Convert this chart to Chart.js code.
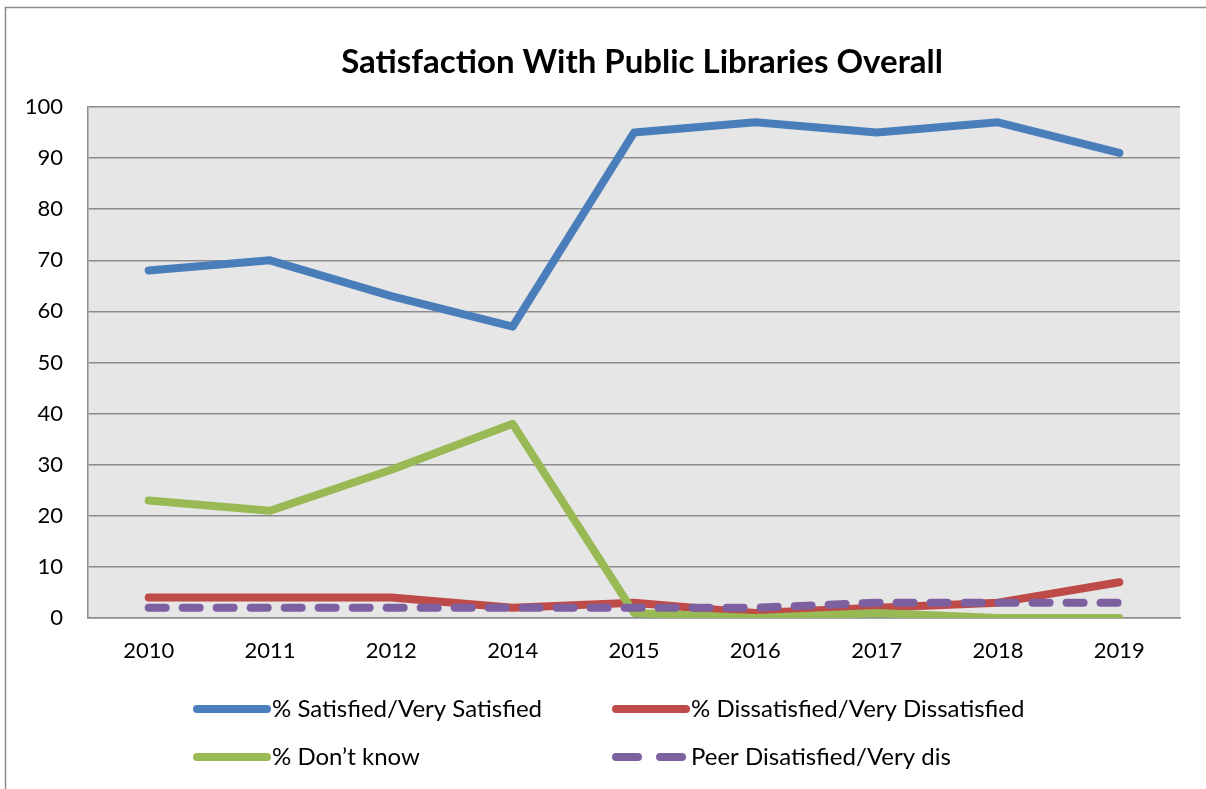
<!DOCTYPE html>
<html>
<head>
<meta charset="utf-8">
<script src="https://cdn.jsdelivr.net/npm/chart.js@4.4.0/dist/chart.umd.min.js"></script>
<style>
  html, body { margin: 0; padding: 0; background: #ffffff; }
  #wrap { width: 1206px; height: 789px; }
</style>
</head>
<body>
<div id="wrap"><canvas id="librariesChart" width="1206" height="789"></canvas></div>
<script>
// dados
const years = ['2010', '2011', '2012', '2014', '2015', '2016', '2017', '2018', '2019'];
const satisfied = [68, 70, 63, 57, 95, 97, 95, 97, 91];
const dissatisfied = [4, 4, 4, 2, 3, 1, 2, 3, 7];
const dontKnow = [23, 21, 29, 38, 1, 0, 1, 0, 0];
const peerDissatisfied = [2, 2, 2, 2, 2, 2, 3, 3, 3];

const seriesNames = [
    '% Satisfied/Very Satisfied',
    '% Dissatisfied/Very Dissatisfied',
    '% Don\u2019t know',
    'Peer Disatisfied/Very dis'
];
const seriesColors = ['#4a7ebb', '#be4b48', '#98b954', '#7d60a0'];
const chartTitle = 'Satisfaction With Public Libraries Overall';

const FONT = 'Lato, "Open Sans", sans-serif';

// fundo cinza da área do gráfico + moldura externa
const backgroundPlugin = {
    id: 'plotBackground',
    beforeDraw(chart) {
        const { ctx, chartArea } = chart;
        ctx.save();
        ctx.fillStyle = '#ffffff';
        ctx.fillRect(0, 0, chart.width, chart.height);
        ctx.strokeStyle = '#8c8c8c';
        ctx.lineWidth = 1.5;
        ctx.strokeRect(5.5, 7.5, 1400, 1000);
        ctx.fillStyle = '#e6e6e6';
        ctx.fillRect(chartArea.left, chartArea.top,
            chartArea.right - chartArea.left, chartArea.bottom - chartArea.top);
        ctx.restore();
    }
};

// título e legenda em duas colunas (como no Excel)
const titleLegendPlugin = {
    id: 'titleLegend',
    afterDraw(chart) {
        const ctx = chart.ctx;
        ctx.save();
        ctx.fillStyle = '#000000';
        ctx.font = 'bold 33px ' + FONT;
        ctx.textAlign = 'center';
        ctx.textBaseline = 'middle';
        ctx.fillText(chartTitle, 642, 62);

        const cols = [193, 612];
        const rows = [709, 757];
        ctx.font = '24px ' + FONT;
        ctx.textAlign = 'left';
        chart.data.datasets.forEach((ds, i) => {
            const x = cols[i % 2];
            const y = rows[Math.floor(i / 2)];
            ctx.strokeStyle = ds.borderColor;
            ctx.lineWidth = 8;
            ctx.lineCap = 'round';
            ctx.setLineDash(ds.borderDash.length ? [22, 22] : []);
            ctx.beginPath();
            ctx.moveTo(x + 4, y);
            ctx.lineTo(x + 74, y);
            ctx.stroke();
            ctx.setLineDash([]);
            ctx.fillStyle = '#000000';
            ctx.fillText(ds.label, x + 79, y);
        });
        ctx.restore();
    }
};

function makeDataset(index, values, dashed) {
    return {
        label: seriesNames[index],
        data: values,
        borderColor: seriesColors[index],
        backgroundColor: seriesColors[index],
        borderWidth: 8,
        borderCapStyle: 'round',
        borderJoinStyle: 'round',
        borderDash: dashed ? [17, 17] : [],
        pointRadius: 0,
        tension: 0,
        fill: false,
        order: 3 - index
    };
}

new Chart(document.getElementById('librariesChart'), {
    type: 'line',
    data: {
        labels: years,
        datasets: [
            makeDataset(0, satisfied, false),
            makeDataset(1, dissatisfied, false),
            makeDataset(2, dontKnow, false),
            makeDataset(3, peerDissatisfied, true)
        ]
    },
    options: {
        responsive: false,
        animation: false,
        layout: {
            padding: { top: 107, left: 0, right: 26, bottom: 121 }
        },
        scales: {
            x: {
                offset: true,
                grid: { display: false, drawTicks: false },
                border: { display: true, color: '#8c8c8c', width: 1.5 },
                ticks: {
                    color: '#000000',
                    font: { family: FONT, size: 22 },
                    padding: 20,
                    maxRotation: 0
                },
                afterFit(scale) { scale.height = 50; }
            },
            y: {
                min: 0,
                max: 100,
                grid: { color: '#8c8c8c', lineWidth: 1.5, drawTicks: false },
                border: { display: true, color: '#8c8c8c', width: 1.5 },
                ticks: {
                    stepSize: 10,
                    color: '#000000',
                    font: { family: FONT, size: 22 },
                    padding: 25
                },
                afterFit(scale) { scale.width = 88; }
            }
        },
        plugins: {
            legend: { display: false },
            title: { display: false },
            tooltip: { enabled: false }
        }
    },
    plugins: [backgroundPlugin, titleLegendPlugin]
});
</script>
</body>
</html>
